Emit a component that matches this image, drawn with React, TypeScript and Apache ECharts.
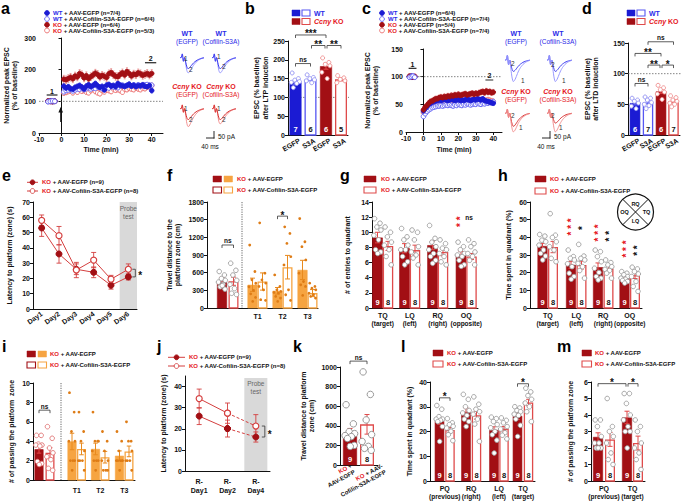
import React, { useEffect, useRef } from "react";
import * as echarts from "echarts";

const FONT = "'Liberation Sans', Arial, Helvetica, sans-serif";
const INK = "#111111";
const WT_BLUE = "#1b1bd3";
const WT_OPEN = "#5656f2";
const KO_RED = "#a20f14";
const KO_OPEN = "#df4b4b";
const KO_ERR = "#e24545";
const RED_TXT = "#e5171d";
const BLUE_TXT = "#2a2ae8";
const ORANGE = "#f6a441";
const ORANGE_DARK = "#e88a1e";
const ORANGE_DOT = "#de7c16";
const GRAY_DOT = "#9c9c9c";
const LINE_RED = "#d43f3f";
const SHADE = "#d9d9d9";

// ======================= DATA =======================
// a: LTP time course (% of baseline)
const aBaseTime = [-6, -5, -4, -3];
const aTime = [1, 2, 3, 4, 5, 6, 7, 8, 9, 10, 11, 12, 13, 14, 15, 16, 17, 18, 19, 20, 21, 22, 23, 24, 25, 26, 27, 28, 29, 30, 31, 32, 33, 34, 35, 36, 37, 38, 39, 40];
const aBaseWtEgfp = [100, 101, 99, 100];
const aBaseWtCof = [99, 100, 101, 100];
const aBaseKoEgfp = [101, 100, 99, 100];
const aBaseKoCof = [100, 99, 100, 101];
const aWtEgfp = [148, 142, 146, 140, 138, 144, 147, 150, 145, 139, 148, 152, 146, 150, 156, 149, 144, 147, 136, 151, 153, 148, 150, 146, 156, 151, 149, 147, 150, 154, 148, 151, 146, 150, 149, 152, 147, 146, 150, 134];
const aWtCof = [130, 134, 136, 137, 133, 136, 139, 138, 141, 137, 140, 143, 139, 142, 141, 146, 144, 140, 143, 146, 142, 149, 145, 147, 143, 149, 151, 147, 150, 153, 148, 151, 150, 152, 148, 150, 152, 153, 150, 151];
const aKoEgfp = [170, 168, 172, 176, 171, 180, 177, 188, 184, 174, 181, 171, 178, 183, 189, 185, 177, 182, 179, 175, 187, 191, 184, 179, 178, 185, 190, 183, 194, 188, 180, 186, 184, 190, 187, 182, 185, 188, 183, 188];
const aKoCof = [126, 128, 131, 133, 127, 135, 129, 137, 132, 134, 129, 127, 134, 139, 131, 127, 124, 134, 130, 137, 134, 131, 139, 135, 137, 134, 129, 139, 137, 141, 139, 137, 142, 139, 137, 141, 140, 145, 147, 150];
const aSemWtEgfp = 8;
const aSemWtCof = 6;
const aSemKoEgfp = 12;
const aSemKoCof = 7;

// b: EPSC after LTP induction
const bLabels = ["EGFP", "S3A", "EGFP", "S3A"];
const bMeans = [140, 148, 183, 148];
const bSem = [5, 4, 8, 4];
const bN = [7, 6, 6, 5];
const bDots = [
  [165, 150, 146, 142, 140, 137, 126],
  [160, 153, 150, 147, 144, 139],
  [205, 193, 188, 184, 167, 150],
  [158, 152, 148, 144, 139],
];

// c: LTD time course
const cBaseTime = [-8, -7, -6, -5];
const cTime = [0, 1, 2, 3, 4, 5, 6, 7, 8, 9, 10, 11, 12, 13, 14, 15, 16, 17, 18, 19, 20, 21, 22, 23, 24, 25, 26, 27, 28, 29, 30, 31, 32, 33, 34, 35, 36, 37, 38, 39, 40];
const cBaseWtEgfp = [100, 101, 99, 100];
const cBaseWtCof = [99, 100, 101, 99];
const cBaseKoEgfp = [101, 100, 99, 100];
const cBaseKoCof = [100, 99, 100, 101];
const cWtEgfp = [38, 42, 46, 50, 52, 54, 55, 56, 57, 58, 57, 58, 59, 58, 57, 58, 59, 58, 57, 58, 59, 57, 58, 57, 58, 59, 58, 57, 58, 59, 58, 60, 59, 58, 60, 57, 56, 55, 54, 53, 52];
const cWtCof = [28, 33, 37, 40, 42, 44, 45, 46, 47, 47, 48, 47, 48, 49, 48, 49, 48, 47, 49, 48, 50, 49, 48, 50, 49, 51, 50, 49, 50, 51, 50, 52, 51, 50, 52, 51, 53, 52, 54, 53, 55];
const cKoEgfp = [40, 45, 48, 52, 55, 56, 58, 60, 60, 62, 63, 62, 64, 63, 65, 64, 66, 65, 67, 66, 68, 66, 67, 68, 69, 67, 68, 69, 70, 68, 70, 69, 71, 72, 73, 71, 74, 72, 73, 71, 72];
const cKoCof = [35, 40, 44, 47, 48, 50, 50, 51, 52, 51, 52, 53, 52, 54, 53, 52, 54, 55, 54, 53, 55, 56, 55, 56, 57, 56, 55, 57, 58, 57, 56, 58, 57, 58, 57, 56, 57, 58, 57, 56, 55];
const cSemWtEgfp = 4;
const cSemWtCof = 4;
const cSemKoEgfp = 5;
const cSemKoCof = 5;

// d: EPSC after LTD induction
const dLabels = ["EGFP", "S3A", "EGFP", "S3A"];
const dMeans = [52, 53, 71, 55];
const dSem = [3, 2.5, 3, 2.5];
const dN = [6, 7, 6, 7];
const dDots = [
  [60, 57, 55, 52, 47, 43],
  [62, 60, 57, 53, 50, 48, 43],
  [81, 77, 74, 70, 67, 58],
  [64, 61, 57, 55, 52, 50, 46],
];

// e: latency to platform across days
const eDays = ["Day1", "Day2", "Day3", "Day4", "Day5", "Day6"];
const eEgfp = [53, 36, 26, 24, 15.5, 21];
const eEgfpSem = [5.5, 6, 3.5, 3.5, 2.5, 2];
const eCof = [58, 48, 25.5, 32, 19.5, 26];
const eCofSem = [3.5, 6, 5, 5, 2.5, 3.5];

// f: travel distance (total, T1, T2, T3)
const fLabels = ["T1", "T2", "T3"];
const fEgfp = [450, 394, 292, 647];
const fCof = [455, 450, 693, 253];
const fSemEgfp = [70, 113, 56, 163];
const fSemCof = [70, 146, 200, 60];
const fDotsEgfp = [
  [620, 560, 500, 470, 440, 400, 360, 320, 380],
  [1069, 620, 480, 420, 360, 300, 240, 180, 112],
  [562, 366, 309, 281, 264, 253, 197, 169, 112],
  [1519, 1125, 1041, 816, 591, 450, 394, 366, 214],
];
const fDotsCof = [
  [760, 640, 560, 470, 400, 330, 250, 230],
  [1446, 591, 478, 422, 366, 309, 141, 130],
  [1378, 1266, 1097, 872, 731, 309, 225, 130],
  [422, 366, 337, 309, 253, 225, 197, 169],
];

// g: entries to quadrant
const quadLabels = ["TQ", "LQ", "RQ", "OQ"];
const quadSub = ["(target)", "(left)", "(right)", "(opposite)"];
const gEgfp = [9.3, 7.9, 8.3, 7.0];
const gCof = [8.2, 7.65, 7.4, 6.8];
const gSemEgfp = [0.7, 0.6, 0.55, 0.45];
const gSemCof = [0.6, 0.65, 0.5, 0.4];
const gDotsEgfp = [
  [11.8, 11.2, 10.7, 10.3, 9.6, 9.0, 7.7, 7.4, 7.2],
  [10.5, 9.4, 9.0, 8.3, 7.7, 7.7, 6.8, 6.1, 5.7],
  [10.9, 9.2, 8.7, 8.1, 7.7, 7.2, 6.8, 6.3, 5.9],
  [8.7, 8.1, 7.7, 7.2, 7.0, 6.8, 6.3, 5.7, 5.5],
];
const gDotsCof = [
  [10.7, 10.0, 9.4, 8.7, 8.3, 7.7, 6.8, 5.7],
  [10.3, 10.0, 9.0, 8.1, 7.4, 7.0, 6.6, 5.7],
  [9.0, 8.5, 7.9, 7.7, 7.2, 6.8, 6.1, 5.7],
  [9.0, 8.5, 8.1, 7.4, 7.2, 6.8, 6.3, 5.7],
];

// h: time spent in quadrant (probe)
const hEgfp = [35.1, 24.4, 23.1, 17.2];
const hCof = [34.5, 24.3, 22.3, 18.5];
const hSemEgfp = [1.5, 2.0, 2.4, 1.2];
const hSemCof = [3.2, 2.2, 1.5, 1.8];
const hDotsEgfp = [
  [41.6, 40.7, 38.4, 37.5, 35.6, 32.8, 30.9, 29.4, 27.2],
  [32.8, 29.1, 28.1, 27.2, 25.0, 23.4, 19.7, 17.8, 16.3],
  [32.8, 31.9, 29.1, 26.2, 22.5, 20.1, 17.8, 16.9, 15.9],
  [20.6, 19.7, 18.8, 17.8, 16.9, 16.3, 15.6, 15.0, 14.1],
];
const hDotsCof = [
  [53.4, 41.2, 39.9, 37.5, 34.7, 32.8, 28.1, 26.2],
  [36.0, 29.4, 28.1, 27.2, 25.3, 23.4, 21.2, 16.9],
  [27.2, 25.7, 24.4, 23.4, 21.9, 21.2, 19.7, 16.9],
  [23.1, 22.1, 20.6, 19.3, 17.8, 15.0, 12.2, 9.4],
];

// i: number of platform crossings (total, T1, T2, T3)
const iLabels = ["T1", "T2", "T3"];
const iEgfp = [3.17, 3.97, 3.2, 2.5];
const iCof = [2.8, 3.2, 2.35, 2.95];
const iSemEgfp = [0.4, 0.85, 0.6, 0.5];
const iSemCof = [0.55, 0.6, 0.6, 0.55];
const iDotsEgfp = [
  [4.6, 4.6, 3.7, 3.6, 3.6, 3.5, 1.9, 1.7, 1.6],
  [9, 7, 5, 4, 4, 2, 2, 2, 1],
  [7, 4, 4, 4, 3, 2, 2, 2, 1],
  [5, 4, 3, 2, 2, 2, 2, 2, 1],
];
const iDotsCof = [
  [5.5, 4.3, 3.3, 2.8, 2.4, 2.1, 1.2, 1.0],
  [7, 5, 4, 3, 2, 2, 2, 1],
  [5, 4, 3, 2, 2, 1, 1, 1],
  [6, 4, 4, 3, 2, 2, 2, 1],
];

// j: reversal latency
const jDays = ["R-\nDay1", "R-\nDay2", "R-\nDay4"];
const jEgfp = [26, 20.1, 16.1];
const jEgfpSem = [4, 4, 2.4];
const jCof = [34.3, 27.4, 21.3];
const jCofSem = [4.5, 4.8, 5.4];

// k: travel distance (reversal)
const kLabels = ["{r|KO} +\nAAV-EGFP", "{r|KO} + AAV-\nCofilin-S3A-EGFP"];
const kMeans = [328, 415];
const kSem = [45, 100];
const kN = [9, 8];
const kDots = [
  [615, 420, 340, 320, 300, 290, 270, 200, 190],
  [950, 720, 460, 310, 240, 190, 170, 150],
];

// l: time spent in quadrant (reversal)
const lLabels = ["PQ", "RQ", "LQ", "TQ"];
const lSub = ["(previous)", "(right)", "(left)", "(target)"];
const lEgfp = [24.3, 27.9, 20.6, 26.3];
const lCof = [20.6, 26.6, 21.1, 31.7];
const lSemEgfp = [1.4, 1.6, 1.3, 1.5];
const lSemCof = [1.0, 1.6, 0.9, 1.3];
const lDotsEgfp = [
  [30.5, 29.0, 26.0, 25.0, 25.0, 24.5, 24.0, 22.0, 16.0],
  [35.0, 33.0, 30.0, 28.5, 27.5, 26.5, 25.0, 24.0, 22.0],
  [25.8, 25.2, 24.0, 22.8, 21.5, 20.0, 18.7, 16.5, 11.3],
  [30.0, 29.5, 28.5, 28.0, 27.0, 26.5, 25.0, 22.5, 18.0],
];
const lDotsCof = [
  [25.2, 23.5, 22.8, 22.1, 21.4, 20.1, 18.7, 16.3],
  [34.0, 31.0, 29.0, 28.0, 27.0, 25.0, 23.0, 16.0],
  [25.5, 24.5, 23.5, 22.0, 21.0, 19.5, 18.5, 17.0],
  [37.5, 36.0, 34.5, 33.0, 31.5, 30.0, 28.0, 24.0],
];

// m: number of platform crossings (reversal)
const mLabels = ["PQ", "TQ"];
const mSub = ["(previous)", "(target)"];
const mEgfp = [2.67, 3.85];
const mCof = [2.52, 2.3];
const mSemEgfp = [0.25, 0.38];
const mSemCof = [0.42, 0.42];
const mDotsEgfp = [
  [3.7, 3.7, 3.3, 2.7, 2.3, 2.3, 2.0, 2.0, 2.0],
  [5.3, 5.3, 4.7, 4.0, 3.7, 3.3, 3.0, 3.0, 2.0],
];
const mDotsCof = [
  [5.0, 3.3, 3.0, 2.7, 2.3, 1.7, 1.3, 1.0],
  [3.7, 3.3, 3.0, 2.3, 2.0, 1.7, 1.3, 0.7],
];

// example EPSC traces (pA, arbitrary samples)
const traceLtpBefore = [0, 0, 4, -4, 0, -5, -10, -12, -11.5, -10, -8.5, -7, -5.6, -4.5, -3.6, -2.8, -2.1, -1.6, -1.1, -0.7, -0.4, -0.2];
const traceLtpWtAfter = [0, 0, 4, -4, 0, -7, -14, -16.5, -16, -14, -12, -10, -8, -6.5, -5, -4, -3, -2.2, -1.6, -1, -0.6, -0.3];
const traceLtpKoAfter = [0, 0, 4, -4, 0, -8, -16, -19.5, -19, -16.5, -14, -11.5, -9.3, -7.4, -5.8, -4.5, -3.4, -2.5, -1.8, -1.2, -0.7, -0.4];
const traceLtdBefore = [0, 0, 4, -4, 0, -8, -15, -18, -17, -15, -12.5, -10, -8, -6.3, -5, -3.8, -2.9, -2.1, -1.5, -1, -0.6, -0.3];
const traceLtdWtAfter = [0, 0, 4, -4, 0, -4, -8, -9.5, -9, -8, -6.7, -5.4, -4.3, -3.4, -2.7, -2, -1.5, -1.1, -0.8, -0.5, -0.3, -0.1];
const traceLtdKoAfter = [0, 0, 4, -4, 0, -5.5, -10.5, -12.6, -12, -10.5, -8.8, -7, -5.6, -4.4, -3.5, -2.7, -2, -1.5, -1, -0.7, -0.4, -0.2];

// ======================= STYLES / HELPERS =======================
const BAR_STYLES: any = {
  wtFill: { color: WT_BLUE, open: false, err: "#6a6af5", count: "#fff" },
  wtOpen: { color: WT_OPEN, open: true, err: WT_OPEN, count: INK },
  koFill: { color: KO_RED, open: false, err: KO_ERR, count: "#fff" },
  koOpen: { color: KO_OPEN, open: true, err: KO_OPEN, count: INK },
  orFill: { color: ORANGE, open: false, err: ORANGE_DARK, count: "#fff" },
  orOpen: { color: ORANGE, open: true, err: ORANGE_DARK, count: INK },
};
const DOT_STYLES: any = {
  wt: { fill: "#fff", stroke: "#9292f2", size: 4 },
  ko: { fill: "#fff", stroke: "#ee8c8c", size: 4 },
  gray: { fill: "#fff", stroke: GRAY_DOT, size: 4.6 },
  pink: { fill: "#fff", stroke: "#e07474", size: 4.6 },
  orange: { fill: ORANGE_DOT, stroke: ORANGE_DOT, size: 2.8 },
  big: { fill: "#fff", stroke: "#8d8d8d", size: 6.5 },
};
const TS_STYLE: any = {
  wtFill: { fill: WT_BLUE, stroke: WT_BLUE, err: "#6d6df3" },
  wtOpen: { fill: "#fff", stroke: "#5d5df5", err: "#8a8af7" },
  koFill: { fill: KO_RED, stroke: KO_RED, err: "#e06a6a" },
  koOpen: { fill: "#fff", stroke: "#ea6a6a", err: "#f09a9a" },
};
const JIT = [-0.28, 0.24, -0.06, 0.33, -0.35, 0.1, -0.18, 0.3, 0.02, -0.32, 0.16];
const AXIS_LINE = { show: true, lineStyle: { color: INK, width: 1 } };
const NAME_STYLE = { fontFamily: FONT, fontWeight: "bold", fontSize: 7, color: INK, lineHeight: 8.5 };
const TIME_TICKS = [-10, 0, 10, 20, 30, 40];
const plain = (v: number) => String(v);

function yAxisOf(gi: number, o: any) {
  const ax: any = {
    gridIndex: gi, type: "value", min: o.min, max: o.max, interval: o.interval,
    name: o.name, nameLocation: "middle", nameGap: o.nameGap, nameTextStyle: NAME_STYLE,
    axisLine: AXIS_LINE,
    axisTick: { show: true, length: 3, lineStyle: { color: INK, width: 1 } },
    axisLabel: { fontFamily: FONT, fontWeight: "bold", fontSize: 7, color: INK, margin: 3, formatter: plain },
    splitLine: { show: false },
  };
  if (o.ticks) {
    ax.axisTick.customValues = o.ticks;
    ax.axisLabel.customValues = o.ticks;
  }
  return ax;
}

function xBarAxis(gi: number, width: number, pos: number[], text: string[], o: any = {}) {
  return {
    gridIndex: gi, type: "value", min: 0, max: width,
    axisLine: AXIS_LINE, axisTick: { show: false }, splitLine: { show: false },
    axisLabel: {
      show: pos.length > 0,
      customValues: pos, showMinLabel: true, showMaxLabel: true, hideOverlap: false,
      formatter: (v: number) => {
        const k = pos.findIndex((c) => Math.abs(c - v) < 1e-6);
        return k < 0 ? "" : text[k];
      },
      fontFamily: FONT, fontWeight: "bold", fontSize: 7, color: INK, lineHeight: 8,
      margin: o.margin ?? 3, rich: o.rich,
    },
  };
}

function barSeries(gi: number, bars: any[]) {
  return {
    type: "custom", xAxisIndex: gi, yAxisIndex: gi, z: 2, silent: true,
    data: bars.map((b) => [b.x, b.mean]),
    renderItem: (params: any, api: any) => {
      const b = bars[params.dataIndex];
      const st = BAR_STYLES[b.style];
      const tl = api.coord([b.x - b.w / 2, b.mean]);
      const br = api.coord([b.x + b.w / 2, 0]);
      const lw = st.open ? 1.3 : 0.6;
      return {
        type: "rect",
        shape: { x: tl[0] + lw / 2, y: tl[1] + lw / 2, width: br[0] - tl[0] - lw, height: br[1] - tl[1] - lw / 2 },
        style: { fill: st.open ? "#fff" : st.color, stroke: st.color, lineWidth: lw },
      };
    },
  };
}

function errorSeries(gi: number, items: any[], z = 3) {
  return {
    type: "custom", xAxisIndex: gi, yAxisIndex: gi, z, silent: true,
    data: items.map((it) => [it.x, it.v]),
    renderItem: (params: any, api: any) => {
      const it = items[params.dataIndex];
      const top = api.coord([it.x, it.v + it.e]);
      const bot = api.coord([it.x, it.v - it.e]);
      const px = top[0];
      const c = it.cap / 2;
      const st = { stroke: it.color, lineWidth: it.lw || 1 };
      return {
        type: "group",
        children: [
          { type: "line", shape: { x1: px, y1: top[1], x2: px, y2: bot[1] }, style: st },
          { type: "line", shape: { x1: px - c, y1: top[1], x2: px + c, y2: top[1] }, style: st },
          { type: "line", shape: { x1: px - c, y1: bot[1], x2: px + c, y2: bot[1] }, style: st },
        ],
      };
    },
  };
}

function dotSeries(gi: number, b: any) {
  const ds = DOT_STYLES[b.dot];
  return {
    type: "scatter", xAxisIndex: gi, yAxisIndex: gi, z: 4, silent: true,
    symbol: "circle", symbolSize: ds.size,
    itemStyle: { color: ds.fill, borderColor: ds.stroke, borderWidth: ds.size > 3.5 ? 0.9 : 0, opacity: 1 },
    data: b.dots.map((v: number, k: number) => [b.x + JIT[k % JIT.length] * b.w, v]),
  };
}

function countSeries(gi: number, bars: any[]) {
  return {
    type: "custom", xAxisIndex: gi, yAxisIndex: gi, z: 6, silent: true,
    data: bars.map((b) => [b.x, 0]),
    renderItem: (params: any, api: any) => {
      const b = bars[params.dataIndex];
      if (!b.n) return null;
      const p = api.coord([b.x, 0]);
      return {
        type: "text",
        style: {
          text: String(b.n), x: p[0], y: p[1] - 1.5, align: "center", verticalAlign: "bottom",
          fill: BAR_STYLES[b.style].count, fontSize: 7.5, fontWeight: "bold", fontFamily: FONT,
        },
      };
    },
  };
}

// rotated category labels drawn under the bars (anchored at each bar's x on the axis)
function rotLabelSeries(gi: number, pos: number[], texts: string[], o: any = {}) {
  const dx: number[] = o.dx || pos.map(() => 4);
  const size = o.size || 7;
  const angle = o.angle ?? 30;
  return {
    type: "custom", xAxisIndex: gi, yAxisIndex: gi, z: 8, silent: true,
    data: pos.map((x) => [x, 0]),
    renderItem: (params: any, api: any) => {
      const k = params.dataIndex;
      const p = api.coord([pos[k], 0]);
      return {
        type: "text", x: p[0] + dx[k], y: p[1] + (o.dy ?? 5), rotation: (angle * Math.PI) / 180,
        style: {
          text: texts[k], x: 0, y: 0, align: "right", verticalAlign: "middle",
          fill: INK, fontSize: size, fontWeight: "bold", fontFamily: FONT, lineHeight: size + 1, rich: o.rich,
        },
      };
    },
  };
}

function bracketSeries(gi: number, items: any[]) {
  return {
    type: "custom", xAxisIndex: gi, yAxisIndex: gi, z: 7, silent: true,
    data: items.map((it) => [it.x1, it.y]),
    renderItem: (params: any, api: any) => {
      const it = items[params.dataIndex];
      const a = api.coord([it.x1, it.y]);
      const b = api.coord([it.x2, it.y]);
      const leg = it.leg ?? 3;
      const isStar = /^\*+$/.test(it.text);
      return {
        type: "group",
        children: [
          {
            type: "polyline",
            shape: { points: [[a[0], a[1] + leg], [a[0], a[1]], [b[0], b[1]], [b[0], b[1] + leg]] },
            style: { stroke: it.lineColor || "#333", lineWidth: it.lw || 0.8, fill: "none" },
          },
          {
            type: "text",
            style: {
              text: it.text, x: (a[0] + b[0]) / 2, y: a[1] + (isStar ? 4 : -0.5),
              align: "center", verticalAlign: "bottom", fill: it.color || INK,
              fontSize: it.size || (isStar ? 10 : 6.5), fontWeight: "bold", fontFamily: FONT,
            },
          },
        ],
      };
    },
  };
}

function vBracketSeries(gi: number, items: any[]) {
  return {
    type: "custom", xAxisIndex: gi, yAxisIndex: gi, z: 7, silent: true,
    data: items.map((it) => [it.x, it.y1]),
    renderItem: (params: any, api: any) => {
      const it = items[params.dataIndex];
      const p1 = api.coord([it.x, it.y1]);
      const p2 = api.coord([it.x, it.y2]);
      const X = p1[0] + it.dx;
      return {
        type: "group",
        children: [
          { type: "polyline", shape: { points: [[X - 3, p1[1]], [X, p1[1]], [X, p2[1]], [X - 3, p2[1]]] }, style: { stroke: "#333", lineWidth: 0.8, fill: "none" } },
          { type: "text", style: { text: it.text, x: X + 3, y: (p1[1] + p2[1]) / 2 + 2.5, align: "left", verticalAlign: "middle", fill: INK, fontSize: 10, fontWeight: "bold", fontFamily: FONT } },
        ],
      };
    },
  };
}

// text notes; stacked significance stars are drawn as one rotated "* * *" string
function noteSeries(gi: number, notes: any[]) {
  return {
    type: "custom", xAxisIndex: gi, yAxisIndex: gi, z: 7, silent: true,
    data: notes.map((n) => [n.x, n.y]),
    renderItem: (params: any, api: any) => {
      const n = notes[params.dataIndex];
      const p = api.coord([n.x, n.y]);
      if (n.stars) {
        return {
          type: "text",
          x: p[0] + 2.8, y: p[1], rotation: Math.PI / 2,
          style: {
            text: Array(n.stars).fill("*").join(" "), x: 0, y: 0, align: "center", verticalAlign: "middle",
            fill: n.color || INK, fontSize: 10, fontWeight: "bold", fontFamily: FONT,
          },
        };
      }
      return {
        type: "text",
        style: {
          text: n.text, x: p[0] + (n.dx || 0), y: p[1] + (n.dy || 0), align: n.align || "center",
          verticalAlign: "middle", fill: n.color || INK, fontSize: n.size || 7,
          fontWeight: n.weight || "bold", fontFamily: FONT, lineHeight: n.lh || undefined,
        },
      };
    },
  };
}

function pairBars(pos: number[], w: number, egfp: number[], cof: number[], semE: number[], semC: number[],
  dotsE: number[][], dotsC: number[][], styles: string[][], dotKinds: string[][], counts?: number[]) {
  const bars: any[] = [];
  egfp.forEach((v, k) => {
    bars.push({ x: pos[2 * k], w, mean: v, err: semE[k], style: styles[k][0], dots: dotsE[k], dot: dotKinds[k][0], n: counts ? counts[0] : 0 });
    bars.push({ x: pos[2 * k + 1], w, mean: cof[k], err: semC[k], style: styles[k][1], dots: dotsC[k], dot: dotKinds[k][1], n: counts ? counts[1] : 0 });
  });
  return bars;
}

// ======================= OPTION =======================
function buildOption(): any {
  const grid: any[] = [];
  const xAxis: any[] = [];
  const yAxis: any[] = [];
  const series: any[] = [];
  const graphic: any[] = [];
  const panel = (rect: any, x: any, y: any) => {
    grid.push({ left: rect.left, top: rect.top, width: rect.width, height: rect.height });
    const gi = grid.length - 1;
    xAxis.push({ gridIndex: gi, ...x });
    yAxis.push({ ...y, gridIndex: gi });
    return gi;
  };

  const addBarPanel = (p: any) => {
    grid.push({ left: p.rect.left, top: p.rect.top, width: p.rect.width, height: p.rect.height });
    const gi = grid.length - 1;
    const rotated = !!p.rotLabels;
    xAxis.push(xBarAxis(gi, p.rect.width, rotated ? [] : p.labelPos, rotated ? [] : p.labelText, p.label || {}));
    yAxis.push(yAxisOf(gi, p.y));
    if (p.refLine != null) {
      series.push({ type: "line", xAxisIndex: gi, yAxisIndex: gi, z: 1, silent: true, symbol: "none", data: [[0, p.refLine], [p.rect.width + (p.refExtra || 0), p.refLine]], lineStyle: { color: "#666", width: 0.8, type: [1.5, 1.5] } });
    }
    series.push(barSeries(gi, p.bars));
    series.push(errorSeries(gi, p.bars.map((b: any) => ({ x: b.x, v: b.mean, e: b.err, color: BAR_STYLES[b.style].err, cap: Math.min(5, b.w * 0.5) }))));
    p.bars.forEach((b: any) => series.push(dotSeries(gi, b)));
    series.push(countSeries(gi, p.bars));
    if (rotated) series.push(rotLabelSeries(gi, p.labelPos, p.labelText, p.rotLabels));
    if (p.brackets) series.push(bracketSeries(gi, p.brackets));
    if (p.notes) series.push(noteSeries(gi, p.notes));
    return gi;
  };

  const addTimePanel = (p: any) => {
    const gi = panel(
      p.rect,
      {
        type: "value", min: -10, max: 45, name: "Time (min)", nameLocation: "middle", nameGap: p.xNameGap, nameTextStyle: NAME_STYLE,
        axisLine: AXIS_LINE,
        axisTick: { show: true, length: 3, customValues: TIME_TICKS, lineStyle: { color: INK, width: 1 } },
        axisLabel: { customValues: TIME_TICKS, fontFamily: FONT, fontWeight: "bold", fontSize: 7, color: INK, margin: 3, formatter: plain },
        splitLine: { show: false },
      },
      yAxisOf(0, p.y)
    );
    series.push({ type: "line", xAxisIndex: gi, yAxisIndex: gi, z: 1, silent: true, symbol: "none", data: [[-10, 100], [45, 100]], lineStyle: { color: "#666", width: 0.8, type: [1.5, 1.5] } });
    p.groups.forEach((g: any, gk: number) => {
      const st = TS_STYLE[g.kind];
      series.push(errorSeries(gi, g.post.map((v: number, k: number) => ({ x: p.time[k], v, e: g.sem, color: st.err, cap: 2, lw: 0.6 })), 3 + gk * 0.01));
      series.push({
        type: "scatter", xAxisIndex: gi, yAxisIndex: gi, z: 4, silent: true, symbol: "circle", symbolSize: 4.6,
        itemStyle: { color: st.fill, borderColor: st.stroke, borderWidth: 0.9, opacity: 1 },
        data: [...g.base.map((v: number, k: number) => [p.baseTime[k], v]), ...g.post.map((v: number, k: number) => [p.time[k], v])],
      });
    });
    const tb = p.groups[p.topBase];
    const tst = TS_STYLE[tb.kind];
    series.push({
      type: "scatter", xAxisIndex: gi, yAxisIndex: gi, z: 5, silent: true, symbol: "circle", symbolSize: 4.6,
      itemStyle: { color: tst.fill, borderColor: tst.stroke, borderWidth: 0.9, opacity: 1 },
      data: tb.base.map((v: number, k: number) => [p.baseTime[k], v]),
    });
    series.push(bracketSeries(gi, p.segments));
    return gi;
  };

  const addTrace = (rect: any, t1: number[], t2: number[], c1: string, c2: string) => {
    const gi = panel(rect, { type: "value", show: false, min: 0, max: t1.length - 1 }, { type: "value", show: false, min: -20, max: 5 });
    series.push({ type: "line", xAxisIndex: gi, yAxisIndex: gi, silent: true, symbol: "none", smooth: 0.25, data: t2.map((v, k) => [k, v]), lineStyle: { color: c2, width: 1 } });
    series.push({ type: "line", xAxisIndex: gi, yAxisIndex: gi, silent: true, symbol: "none", smooth: 0.25, data: t1.map((v, k) => [k, v]), lineStyle: { color: c1, width: 1 } });
  };

  // ---------- a ----------
  addTimePanel({
    rect: { left: 39, top: 38, width: 124, height: 95 }, xNameGap: 12,
    y: { min: 0, max: 300, interval: 100, name: "Normalized peak EPSC\n(% of baseline)", nameGap: 20 },
    baseTime: aBaseTime, time: aTime, topBase: 1,
    groups: [
      { base: aBaseKoCof, post: aKoCof, sem: aSemKoCof, kind: "koOpen" },
      { base: aBaseWtCof, post: aWtCof, sem: aSemWtCof, kind: "wtOpen" },
      { base: aBaseWtEgfp, post: aWtEgfp, sem: aSemWtEgfp, kind: "wtFill" },
      { base: aBaseKoEgfp, post: aKoEgfp, sem: aSemKoEgfp, kind: "koFill" },
    ],
    segments: [
      { x1: -6.6, x2: -1.8, y: 120, text: "1", leg: 0, lw: 1.3, size: 7 },
      { x1: 37, x2: 42, y: 222, text: "2", leg: 0, lw: 1.3, size: 7 },
    ],
  });

  // ---------- b ----------
  const bX = [7.5, 22.5, 38, 53];
  const bStyles = ["wtFill", "wtOpen", "koFill", "koOpen"];
  addBarPanel({
    rect: { left: 288, top: 41, width: 60, height: 94 },
    y: { min: 0, max: 250, interval: 50, name: "EPSC (% baseline)\nafter LTP induction", nameGap: 18 },
    labelPos: bX, labelText: bLabels, rotLabels: {},
    refLine: 100, refExtra: 2,
    bars: bX.map((x, k) => ({ x, w: 12, mean: bMeans[k], err: bSem[k], n: bN[k], style: bStyles[k], dots: bDots[k], dot: k < 2 ? "wt" : "ko" })),
    brackets: [
      { x1: 7.5, x2: 22.5, y: 190, text: "ns" },
      { x1: 23.5, x2: 37, y: 238, text: "**" },
      { x1: 39, x2: 53, y: 238, text: "**" },
      { x1: 7.5, x2: 38, y: 266, text: "***" },
    ],
  });

  // ---------- c ----------
  addTimePanel({
    rect: { left: 406, top: 49, width: 96, height: 83 }, xNameGap: 13,
    y: { min: 0, max: 150, interval: 50, name: "Normalized peak EPSC\n(% of baseline)", nameGap: 26 },
    baseTime: cBaseTime, time: cTime, topBase: 1,
    groups: [
      { base: cBaseKoCof, post: cKoCof, sem: cSemKoCof, kind: "koOpen" },
      { base: cBaseWtCof, post: cWtCof, sem: cSemWtCof, kind: "wtOpen" },
      { base: cBaseWtEgfp, post: cWtEgfp, sem: cSemWtEgfp, kind: "wtFill" },
      { base: cBaseKoEgfp, post: cKoEgfp, sem: cSemKoEgfp, kind: "koFill" },
    ],
    segments: [
      { x1: -8.5, x2: -4, y: 115, text: "1", leg: 0, lw: 1.3, size: 7 },
      { x1: 35.5, x2: 40, y: 94, text: "2", leg: 0, lw: 1.8, size: 7, lineColor: "#888" },
    ],
  });

  // ---------- d ----------
  const dX = [7, 20, 33, 45.5];
  addBarPanel({
    rect: { left: 628, top: 43, width: 52, height: 92 },
    y: { min: 0, max: 150, interval: 50, name: "EPSC (% baseline)\nafter LTD induction", nameGap: 28 },
    labelPos: dX, labelText: dLabels, rotLabels: {},
    refLine: 100, refExtra: 4,
    bars: dX.map((x, k) => ({ x, w: 10.5, mean: dMeans[k], err: dSem[k], n: dN[k], style: bStyles[k], dots: dDots[k], dot: k < 2 ? "wt" : "ko" })),
    brackets: [
      { x1: 7, x2: 20, y: 84, text: "ns" },
      { x1: 20, x2: 32, y: 114, text: "**" },
      { x1: 34, x2: 45.5, y: 114, text: "*" },
      { x1: 7, x2: 33, y: 133, text: "**" },
      { x1: 20, x2: 45.5, y: 152, text: "ns" },
    ],
  });

  // ---------- e ----------
  {
    const gi = panel(
      { left: 33, top: 202, width: 104, height: 107 },
      { type: "category", data: eDays, boundaryGap: true, axisLine: AXIS_LINE, axisTick: { show: false },
        axisLabel: { interval: 0, rotate: 35, margin: 4, fontFamily: FONT, fontWeight: "bold", fontSize: 7, color: INK } },
      yAxisOf(0, { min: 0, max: 70, interval: 10, name: "Latency to platform (zone) (s)", nameGap: 19 })
    );
    series.push({ type: "bar", xAxisIndex: gi, yAxisIndex: gi, z: 0, silent: true, barWidth: "100%", itemStyle: { color: SHADE }, data: eDays.map((d, k) => (k === eDays.length - 1 ? 70 : "-")) });
    series.push(errorSeries(gi, eEgfp.map((v, k) => ({ x: k, v, e: eEgfpSem[k], color: LINE_RED, cap: 5, lw: 0.9 }))));
    series.push(errorSeries(gi, eCof.map((v, k) => ({ x: k, v, e: eCofSem[k], color: LINE_RED, cap: 5, lw: 0.9 }))));
    series.push({ type: "line", xAxisIndex: gi, yAxisIndex: gi, z: 4, silent: true, data: eEgfp, symbol: "circle", symbolSize: 6, itemStyle: { color: KO_RED, borderColor: KO_RED }, lineStyle: { color: LINE_RED, width: 1 } });
    series.push({ type: "line", xAxisIndex: gi, yAxisIndex: gi, z: 5, silent: true, data: eCof, symbol: "circle", symbolSize: 6, itemStyle: { color: "#fff", borderColor: LINE_RED, borderWidth: 1.2 }, lineStyle: { color: LINE_RED, width: 1 } });
    series.push(noteSeries(gi, [{ x: 5, y: 63, text: "Probe\ntest", color: "#666", size: 6.5, weight: "normal", lh: 8 }]));
    series.push(vBracketSeries(gi, [{ x: 5, y1: eCof[5], y2: eEgfp[5], dx: 7, text: "*" }]));
  }

  // ---------- f ----------
  const fX = [15, 26.5, 45.5, 55.5, 70.5, 80.5, 95.5, 105.5];
  addBarPanel({
    rect: { left: 207, top: 202, width: 111, height: 106 },
    y: { min: 0, max: 1800, interval: 300, name: "Travel distance to the\nplatform zone (cm)", nameGap: 25 },
    labelPos: [50.5, 75.5, 100.5], labelText: fLabels, label: { margin: 4 },
    bars: pairBars(fX, 10, fEgfp, fCof, fSemEgfp, fSemCof, fDotsEgfp, fDotsCof,
      [["koFill", "koOpen"], ["orFill", "orOpen"], ["orFill", "orOpen"], ["orFill", "orOpen"]],
      [["gray", "gray"], ["orange", "orange"], ["orange", "orange"], ["orange", "orange"]]),
    brackets: [
      { x1: 15, x2: 26.5, y: 1070, text: "ns" },
      { x1: 70.5, x2: 80.5, y: 1560, text: "*" },
    ],
  });

  // ---------- g ----------
  const quadRich = {
    t: { fontFamily: FONT, fontWeight: "bold", fontSize: 7, color: INK, lineHeight: 8 },
    s: { fontFamily: FONT, fontWeight: "bold", fontSize: 6.5, color: INK, lineHeight: 8 },
  };
  const gX = [5.5, 16, 32.5, 43, 60.5, 71, 89, 99.5];
  addBarPanel({
    rect: { left: 372, top: 202, width: 106, height: 106 },
    y: { min: 0, max: 14, interval: 2, name: "# of entries to quadrant", nameGap: 20 },
    labelPos: [10.75, 37.75, 65.75, 94.25], labelText: quadLabels.map((q, k) => `{t|${q}}\n{s|${quadSub[k]}}`), label: { margin: 3, rich: quadRich },
    bars: pairBars(gX, 10.5, gEgfp, gCof, gSemEgfp, gSemCof, gDotsEgfp, gDotsCof,
      [["koFill", "koOpen"], ["koFill", "koOpen"], ["koFill", "koOpen"], ["koFill", "koOpen"]],
      [["gray", "gray"], ["gray", "gray"], ["gray", "gray"], ["gray", "gray"]], [9, 8]),
    notes: [
      { x: 86, y: 11.4, stars: 2, color: RED_TXT },
      { x: 97, y: 11.9, text: "ns", size: 6.5 },
    ],
  });

  // ---------- h ----------
  const hX = [12.5, 23, 41, 51.5, 68, 78.5, 94.5, 105];
  addBarPanel({
    rect: { left: 530, top: 202, width: 112, height: 106 },
    y: { min: 0, max: 60, interval: 10, name: "Time spent in quadrant (%)", nameGap: 17 },
    labelPos: [17.75, 46.25, 73.25, 99.75], labelText: quadLabels.map((q, k) => `{t|${q}}\n{s|${quadSub[k]}}`), label: { margin: 3, rich: quadRich },
    bars: pairBars(hX, 10, hEgfp, hCof, hSemEgfp, hSemCof, hDotsEgfp, hDotsCof,
      [["koFill", "koOpen"], ["koFill", "koOpen"], ["koFill", "koOpen"], ["koFill", "koOpen"]],
      [["gray", "gray"], ["gray", "gray"], ["gray", "gray"], ["gray", "gray"]], [9, 8]),
    notes: [
      { x: 39, y: 45.9, stars: 3, color: RED_TXT },
      { x: 50, y: 45.3, stars: 1 },
      { x: 66, y: 42.5, stars: 3, color: RED_TXT },
      { x: 77, y: 40.7, stars: 2 },
      { x: 94, y: 33.4, stars: 3, color: RED_TXT },
      { x: 105, y: 32.5, stars: 2 },
    ],
  });

  // ---------- i ----------
  const iX = [6, 17, 39, 48.5, 62.5, 72, 86.5, 96];
  addBarPanel({
    rect: { left: 33, top: 383, width: 102, height: 97 },
    y: { min: 0, max: 10, interval: 2, name: "# of passing the platform  zone", nameGap: 17 },
    labelPos: [43.75, 67.25, 91.25], labelText: iLabels, label: { margin: 6 },
    bars: pairBars(iX, 9, iEgfp, iCof, iSemEgfp, iSemCof, iDotsEgfp, iDotsCof,
      [["koFill", "koOpen"], ["orFill", "orOpen"], ["orFill", "orOpen"], ["orFill", "orOpen"]],
      [["pink", "pink"], ["orange", "orange"], ["orange", "orange"], ["orange", "orange"]]),
    brackets: [{ x1: 6, x2: 17, y: 7.2, text: "ns" }],
  });

  // ---------- j ----------
  {
    const gi = panel(
      { left: 185, top: 376, width: 85, height: 95 },
      { type: "category", data: jDays, boundaryGap: true, axisLine: AXIS_LINE, axisTick: { show: false },
        axisLabel: { interval: 0, margin: 6, lineHeight: 9, fontFamily: FONT, fontWeight: "bold", fontSize: 7, color: INK } },
      yAxisOf(0, { min: 0, max: 45, interval: 10, ticks: [0, 10, 20, 30, 40], name: "Latency to platform (zone) (s)", nameGap: 17 })
    );
    series.push({ type: "bar", xAxisIndex: gi, yAxisIndex: gi, z: 0, silent: true, barWidth: 23, itemStyle: { color: SHADE }, data: jDays.map((d, k) => (k === jDays.length - 1 ? 44 : "-")) });
    series.push(errorSeries(gi, jEgfp.map((v, k) => ({ x: k, v, e: jEgfpSem[k], color: LINE_RED, cap: 5, lw: 0.9 }))));
    series.push(errorSeries(gi, jCof.map((v, k) => ({ x: k, v, e: jCofSem[k], color: LINE_RED, cap: 5, lw: 0.9 }))));
    const solid = (arr: number[]) => arr.map((v, k) => (k < 2 ? v : "-"));
    const dashed = (arr: number[]) => arr.map((v, k) => (k >= 1 ? v : "-"));
    series.push({ type: "line", xAxisIndex: gi, yAxisIndex: gi, z: 4, silent: true, data: solid(jEgfp), symbol: "circle", symbolSize: 6, itemStyle: { color: KO_RED, borderColor: KO_RED }, lineStyle: { color: LINE_RED, width: 1 } });
    series.push({ type: "line", xAxisIndex: gi, yAxisIndex: gi, z: 4, silent: true, data: dashed(jEgfp), symbol: "circle", symbolSize: 6, itemStyle: { color: KO_RED, borderColor: KO_RED }, lineStyle: { color: LINE_RED, width: 1, type: [3, 2] } });
    series.push({ type: "line", xAxisIndex: gi, yAxisIndex: gi, z: 5, silent: true, data: solid(jCof), symbol: "circle", symbolSize: 6, itemStyle: { color: "#fff", borderColor: LINE_RED, borderWidth: 1.2 }, lineStyle: { color: LINE_RED, width: 1 } });
    series.push({ type: "line", xAxisIndex: gi, yAxisIndex: gi, z: 5, silent: true, data: dashed(jCof), symbol: "circle", symbolSize: 6, itemStyle: { color: "#fff", borderColor: LINE_RED, borderWidth: 1.2 }, lineStyle: { color: LINE_RED, width: 1, type: [3, 2] } });
    series.push(noteSeries(gi, [{ x: 2, y: 39.5, text: "Probe\ntest", color: "#666", size: 6.5, weight: "normal", lh: 8 }]));
    series.push(vBracketSeries(gi, [{ x: 2, y1: jCof[2], y2: jEgfp[2], dx: 9, text: "*" }]));
  }

  // ---------- k ----------
  const kX = [10, 27];
  addBarPanel({
    rect: { left: 340, top: 367, width: 38, height: 98 },
    y: { min: 0, max: 1000, interval: 200, name: "Travel distance to platform\nzone (cm)", nameGap: 24 },
    labelPos: kX, labelText: kLabels,
    rotLabels: { dx: [3, 17], dy: 3.5, size: 6, angle: 28, rich: { r: { fill: RED_TXT, fontFamily: FONT, fontWeight: "bold", fontSize: 6 } } },
    bars: kX.map((x, k) => ({ x, w: 14, mean: kMeans[k], err: kSem[k], n: kN[k], style: k === 0 ? "koFill" : "koOpen", dots: kDots[k], dot: "big" })),
    brackets: [{ x1: 10, x2: 27, y: 1060, text: "ns" }],
  });

  // ---------- l ----------
  const lX = [9.5, 20, 36, 46.5, 64, 74, 87.5, 98.5];
  addBarPanel({
    rect: { left: 430, top: 382, width: 105, height: 99 },
    y: { min: 0, max: 40, interval: 10, name: "Time spent in quadrant (%)", nameGap: 16 },
    labelPos: [14.75, 41.25, 69, 93], labelText: lLabels.map((q, k) => `{t|${q}}\n{s|${lSub[k]}}`), label: { margin: 3, rich: quadRich },
    bars: pairBars(lX, 9.5, lEgfp, lCof, lSemEgfp, lSemCof, lDotsEgfp, lDotsCof,
      [["koFill", "koOpen"], ["koFill", "koOpen"], ["koFill", "koOpen"], ["koFill", "koOpen"]],
      [["gray", "gray"], ["gray", "gray"], ["gray", "gray"], ["gray", "gray"]], [9, 8]),
    brackets: [
      { x1: 9.5, x2: 20, y: 33.6, text: "*" },
      { x1: 87.5, x2: 98.5, y: 39.3, text: "*" },
    ],
  });

  // ---------- m ----------
  const mX = [7, 19, 36, 47];
  addBarPanel({
    rect: { left: 591, top: 382, width: 54, height: 99 },
    y: { min: 0, max: 6, interval: 1, name: "# of passing the platform zone", nameGap: 16 },
    labelPos: [13, 41.5], labelText: mLabels.map((q, k) => `{t|${q}}\n{s|${mSub[k]}}`), label: { margin: 3, rich: quadRich },
    bars: pairBars(mX, 10, mEgfp, mCof, mSemEgfp, mSemCof, mDotsEgfp, mDotsCof,
      [["koFill", "koOpen"], ["koFill", "koOpen"]], [["gray", "gray"], ["gray", "gray"]], [9, 8]),
    brackets: [
      { x1: 7, x2: 35, y: 5.9, text: "*" },
      { x1: 37, x2: 47, y: 5.9, text: "*" },
    ],
  });

  // ---------- traces ----------
  const WT_DARK = "#3b3bf0", WT_LIGHT = "#9a9aff", KO_DARK = "#d83232", KO_LIGHT = "#f29090";
  addTrace({ left: 180, top: 53, width: 24, height: 23 }, traceLtpBefore, traceLtpWtAfter, WT_DARK, WT_LIGHT);
  addTrace({ left: 212, top: 53, width: 24, height: 23 }, traceLtpBefore, traceLtpWtAfter, WT_DARK, WT_LIGHT);
  addTrace({ left: 180, top: 104, width: 24, height: 23 }, traceLtpBefore, traceLtpKoAfter, KO_DARK, KO_LIGHT);
  addTrace({ left: 212, top: 104, width: 24, height: 23 }, traceLtpBefore, traceLtpWtAfter, KO_DARK, KO_LIGHT);
  addTrace({ left: 505, top: 54, width: 25, height: 30 }, traceLtdBefore, traceLtdWtAfter, WT_LIGHT, WT_DARK);
  addTrace({ left: 547, top: 54, width: 25, height: 30 }, traceLtdBefore, traceLtdWtAfter, WT_LIGHT, WT_DARK);
  addTrace({ left: 505, top: 108, width: 25, height: 26 }, traceLtdBefore, traceLtdKoAfter, KO_LIGHT, KO_DARK);
  addTrace({ left: 547, top: 108, width: 25, height: 26 }, traceLtdBefore, traceLtdWtAfter, KO_LIGHT, KO_DARK);

  // ---------- graphic: letters, legends, annotations ----------
  const RICH_G: any = {
    w: { fill: BLUE_TXT, fontWeight: "bold", fontSize: 6, fontFamily: FONT },
    r: { fill: RED_TXT, fontWeight: "bold", fontSize: 6, fontFamily: FONT },
  };
  const txt = (x: number, y: number, text: string, o: any = {}) =>
    graphic.push({ type: "text", x, y, silent: true, z: 10, style: { text, fontFamily: FONT, fontWeight: "bold", fontSize: 6, fill: INK, align: "left", verticalAlign: "middle", rich: RICH_G, ...o } });
  const box = (x: number, y: number, w: number, h: number, color: string, open: boolean) =>
    graphic.push({ type: "rect", silent: true, z: 10, shape: { x, y, width: w, height: h }, style: { fill: open ? "#fff" : color, stroke: color, lineWidth: open ? 1.1 : 0.5 } });
  const dot = (cx: number, cy: number, fill: string, stroke: string) =>
    graphic.push({ type: "circle", silent: true, z: 10, shape: { cx, cy, r: 2.4 }, style: { fill, stroke, lineWidth: 0.9 } });
  const line = (x1: number, y1: number, x2: number, y2: number, stroke: string, lw = 1, dash?: number[]) =>
    graphic.push({ type: "line", silent: true, z: 10, shape: { x1, y1, x2, y2 }, style: { stroke, lineWidth: lw, lineDash: dash } });

  // panel letters
  const letters: [string, number, number][] = [
    ["a", 1, 16.7], ["b", 245, 16.7], ["c", 362, 16.7], ["d", 582, 16.7],
    ["e", 2, 183.4], ["f", 167, 183.4], ["g", 340, 183.4], ["h", 498, 183.4],
    ["i", 2, 354.4], ["j", 157, 354.4], ["k", 293, 354.4], ["l", 401, 354.4], ["m", 557, 354.4],
  ];
  letters.forEach(([t, x, y]) => txt(x, y, t, { fontSize: 16, verticalAlign: "bottom", fill: "#000" }));

  // legend a / c
  const tsLegend = (x: number, ys: number[], texts: string[]) => {
    const kinds = ["wtFill", "wtOpen", "koFill", "koOpen"];
    kinds.forEach((k, i) => {
      dot(x, ys[i], TS_STYLE[k].fill, TS_STYLE[k].stroke);
      txt(x + 6, ys[i], texts[i]);
    });
  };
  tsLegend(47, [13, 19, 24.8, 30.5], ["{w|WT} + AAV-EGFP (n=7/4)", "{w|WT} + AAV-Cofilin-S3A-EGFP (n=6/4)", "{r|KO} + AAV-EGFP (n=6/4)", "{r|KO} + AAV-Cofilin-S3A-EGFP (n=5/3)"]);
  tsLegend(382, [13, 19, 24.8, 30.5], ["{w|WT} + AAV-EGFP (n=6/4)", "{w|WT} + AAV-Cofilin-S3A-EGFP (n=7/4)", "{r|KO} + AAV-EGFP (n=5/4)", "{r|KO} + AAV-Cofilin-S3A-EGFP (n=7/4)"]);

  // legend b / d
  const wtKoLegend = (x: number) => {
    box(x, 10, 8, 6, WT_BLUE, false); box(x + 10, 10, 8, 6, WT_OPEN, true);
    box(x, 18.5, 8, 6, KO_RED, false); box(x + 10, 18.5, 8, 6, KO_OPEN, true);
    txt(x + 22, 13, "WT", { fill: BLUE_TXT, fontSize: 7 });
    txt(x + 22, 21.5, "{i|Ccny} KO", { fill: RED_TXT, fontSize: 7, rich: { i: { fill: RED_TXT, fontStyle: "italic", fontWeight: "bold", fontSize: 7, fontFamily: FONT } } });
  };
  wtKoLegend(292);
  wtKoLegend(627);

  // arrow in a
  line(60.7, 122, 60.7, 110, INK, 1);
  graphic.push({ type: "polygon", silent: true, z: 10, shape: { points: [[58.4, 112.5], [60.7, 107], [63, 112.5]] }, style: { fill: INK } });

  // trace titles & scale bars
  const tTitle = (cx: number, y: number, isWT: boolean, sub: string) => {
    const col = isWT ? BLUE_TXT : RED_TXT;
    txt(cx, y, isWT ? "WT" : "{i|Ccny} KO", { align: "center", fill: col, fontSize: 7, rich: { i: { fill: col, fontStyle: "italic", fontWeight: "bold", fontSize: 7, fontFamily: FONT } } });
    txt(cx, y + 8, sub, { align: "center", fill: col, fontSize: 6.5, fontWeight: "normal" });
  };
  tTitle(187, 33, true, "(EGFP)"); tTitle(221, 33, true, "(Cofilin-S3A)");
  tTitle(187, 86, false, "(EGFP)"); tTitle(221, 86, false, "(Cofilin-S3A)");
  tTitle(516, 33, true, "(EGFP)"); tTitle(558, 33, true, "(Cofilin-S3A)");
  tTitle(516, 91, false, "(EGFP)"); tTitle(558, 91, false, "(Cofilin-S3A)");
  const tLbl = (x: number, y: number, t: string) => txt(x, y, t, { fontSize: 6.5, fontWeight: "normal", fill: "#333" });
  tLbl(184, 58, "1"); tLbl(189, 69, "2"); tLbl(217, 56, "1"); tLbl(222, 66, "2");
  tLbl(184, 108, "1"); tLbl(189, 119, "2"); tLbl(217, 108, "1"); tLbl(222, 119, "2");
  tLbl(511, 63, "2"); tLbl(521, 80, "1"); tLbl(551, 64, "2"); tLbl(562, 80, "1");
  tLbl(511, 115, "2"); tLbl(519, 127, "1"); tLbl(551, 115, "2"); tLbl(559, 127, "1");
  // scale bars
  line(214, 131, 214, 138.5, INK, 0.9); line(206, 138, 214.4, 138, INK, 0.9);
  txt(218, 136, "50 pA", { fontWeight: "normal", fontSize: 6.5 }); txt(210, 146, "40 ms", { fontWeight: "normal", fontSize: 6.5, align: "center" });
  line(550, 131, 550, 138.5, INK, 0.9); line(542, 138, 550.4, 138, INK, 0.9);
  txt(554, 136, "50 pA", { fontWeight: "normal", fontSize: 6.5 }); txt(546, 146, "40 ms", { fontWeight: "normal", fontSize: 6.5, align: "center" });

  // legend e & j (line legends)
  const lineLegend = (x1: number, x2: number, ys: number[], texts: string[]) => {
    line(x1, ys[0], x2, ys[0], LINE_RED, 1); dot((x1 + x2) / 2, ys[0], KO_RED, KO_RED);
    line(x1, ys[1], x2, ys[1], LINE_RED, 1); dot((x1 + x2) / 2, ys[1], "#fff", LINE_RED);
    txt(x2 + 4, ys[0], texts[0]); txt(x2 + 4, ys[1], texts[1]);
  };
  lineLegend(27, 38, [182.3, 191], ["{r|KO} + AAV-EGFP (n=9)", "{r|KO} + AAV-Cofilin-S3A-EGFP (n=8)"]);
  lineLegend(168, 185, [357.3, 366], ["{r|KO} + AAV-EGFP (n=9)", "{r|KO} + AAV-Cofilin-S3A-EGFP (n=8)"]);

  // bar legends
  const t1 = "{r|KO} + AAV-EGFP", t2 = "{r|KO} + AAV-Cofilin-S3A-EGFP";
  const twoBoxLegend = (x: number, y1: number, y2: number, w: number, tx: number) => {
    box(x, y1 - 3, w, 6, KO_RED, false); box(x + w + 2.5, y1 - 3, w, 6, ORANGE, false);
    box(x, y2 - 3, w, 6, KO_RED, true); box(x + w + 2.5, y2 - 3, w, 6, ORANGE, true);
    txt(tx, y1, t1); txt(tx, y2, t2);
  };
  twoBoxLegend(213, 179, 190, 8.5, 237);
  twoBoxLegend(27, 354, 365, 8.5, 50);
  const oneBoxLegend = (x: number, y1: number, y2: number, w: number, tx: number) => {
    box(x, y1 - 3, w, 6, KO_RED, false); box(x, y2 - 3, w, 6, KO_OPEN, true);
    txt(tx, y1, t1); txt(tx, y2, t2);
  };
  oneBoxLegend(364, 179, 190, 12, 381);
  oneBoxLegend(535, 179, 191, 11, 550);
  oneBoxLegend(433, 353, 364, 10, 447);
  oneBoxLegend(582, 353, 364, 9.5, 595);

  // dotted separators in f and i
  line(242, 202, 242, 308, "#555", 0.9, [1.2, 1.2]);
  line(61, 383, 61, 480, "#555", 0.9, [1.2, 1.2]);

  // quadrant diagram in h
  graphic.push({ type: "circle", silent: true, z: 10, shape: { cx: 635.5, cy: 212, r: 18 }, style: { fill: "#fff", stroke: INK, lineWidth: 1.2 } });
  line(622.8, 199.3, 648.2, 224.7, INK, 1);
  line(648.2, 199.3, 622.8, 224.7, INK, 1);
  txt(635.5, 203.5, "RQ", { align: "center", fontSize: 5.5 });
  txt(646.5, 212.3, "TQ", { align: "center", fontSize: 5.5 });
  txt(635.5, 221, "LQ", { align: "center", fontSize: 5.5 });
  txt(624.5, 212.3, "OQ", { align: "center", fontSize: 5.5 });

  return {
    animation: false,
    backgroundColor: "#ffffff",
    textStyle: { fontFamily: FONT },
    grid, xAxis, yAxis, series, graphic,
  };
}

export default function App() {
  const ref = useRef<HTMLDivElement>(null);
  useEffect(() => {
    if (!ref.current) return;
    const chart = echarts.init(ref.current, null, { renderer: "svg" });
    chart.setOption(buildOption());
    return () => chart.dispose();
  }, []);
  return <div ref={ref} style={{ position: "fixed", left: 0, top: 0, width: 685, height: 501, background: "#fff" }} />;
}
